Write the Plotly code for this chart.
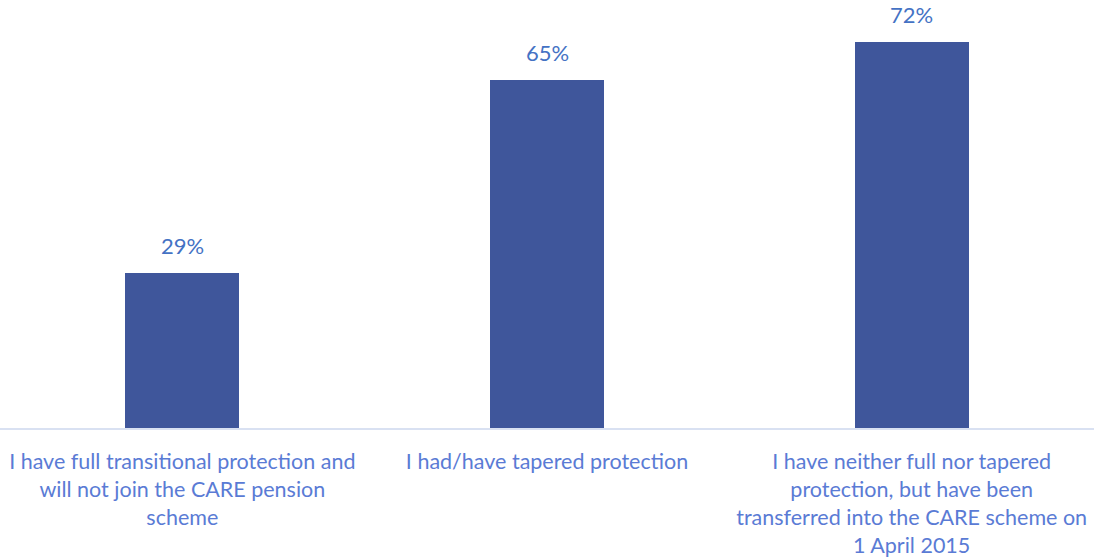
import plotly.graph_objects as go

categories = [
    "I have full transitional protection and<br>will not join the CARE pension<br>scheme",
    "I had/have tapered protection",
    "I have neither full nor tapered<br>protection, but have been<br>transferred into the CARE scheme on<br>1 April 2015",
]
values = [29, 65, 72]
labels = [f"{v}%" for v in values]

BAR_COLOR = "#3F569B"
LABEL_COLOR = "#4472C4"
TICK_COLOR = "#5A7BD5"
FONT = "Lato, 'Open Sans', sans-serif"

fig = go.Figure(
    go.Bar(
        x=list(range(len(categories))),
        y=values,
        marker=dict(color=BAR_COLOR, line=dict(width=0)),
        width=0.312,
        hoverinfo="skip",
    )
)

for i, (v, t) in enumerate(zip(values, labels)):
    fig.add_annotation(
        x=i, y=v, text=t, showarrow=False,
        yanchor="bottom", yshift=12,
        font=dict(family=FONT, size=22, color=LABEL_COLOR),
    )

fig.update_layout(
    width=1094, height=560,
    margin=dict(l=0, r=0, t=0, b=132),
    paper_bgcolor="white", plot_bgcolor="white",
    showlegend=False,
    bargap=0,
    xaxis=dict(
        tickmode="array",
        tickvals=list(range(len(categories))),
        ticktext=categories,
        range=[-0.5, 2.5],
        showline=True, linecolor="#D9E1F2", linewidth=2,
        showgrid=False, zeroline=False, ticks="",
        ticklabelstandoff=13,
        tickfont=dict(family=FONT, size=21.5, color=TICK_COLOR),
    ),
    yaxis=dict(
        range=[0, 79.85], visible=False, showgrid=False, zeroline=False,
    ),
)

fig.write_html("out.html")
